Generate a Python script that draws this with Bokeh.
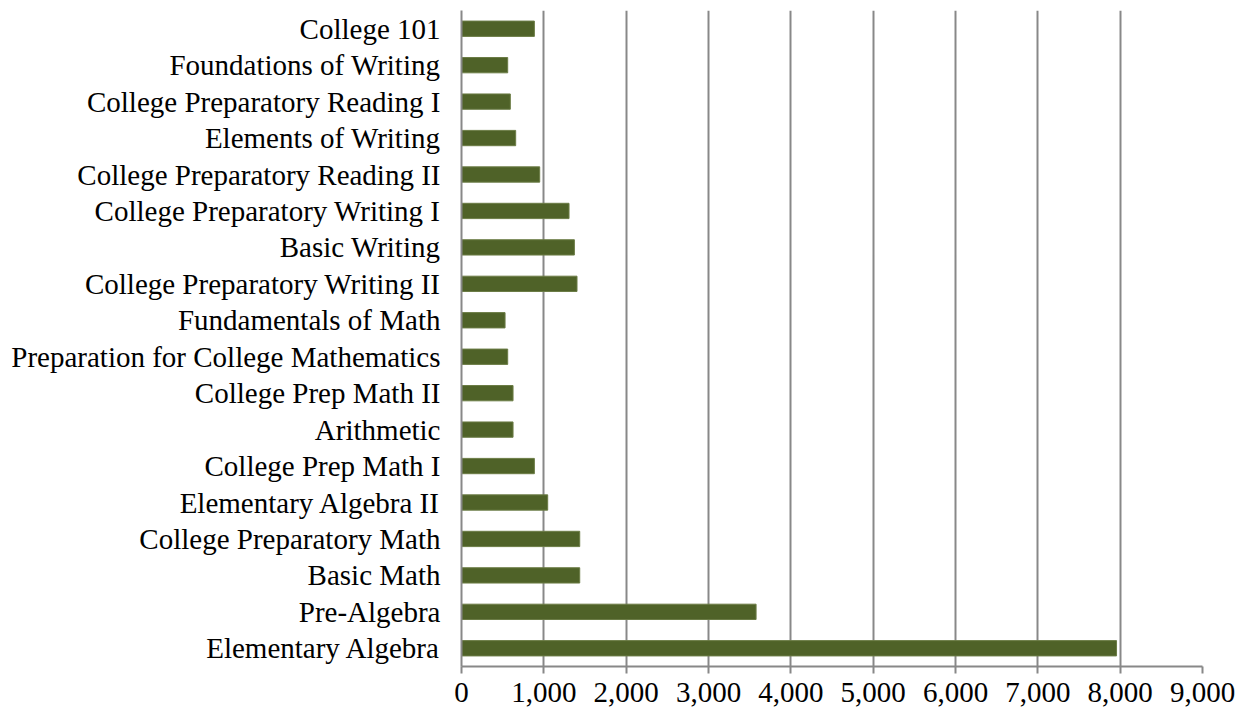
from bokeh.plotting import figure
from bokeh.models import SingleIntervalTicker, NumeralTickFormatter, FactorRange
from bokeh.embed import file_html
from bokeh.resources import INLINE

categories = [
    "Elementary Algebra", "Pre-Algebra", "Basic Math", "College Preparatory Math",
    "Elementary Algebra II", "College Prep Math I", "Arithmetic", "College Prep Math II",
    "Preparation for College Mathematics", "Fundamentals of Math",
    "College Preparatory Writing II", "Basic Writing", "College Preparatory Writing I",
    "College Preparatory Reading II", "Elements of Writing", "College Preparatory Reading I",
    "Foundations of Writing", "College 101",
]
values = [7956, 3578, 1436, 1436, 1047, 885, 626, 626, 561, 529,
          1403, 1371, 1306, 950, 658, 593, 561, 885]

p = figure(width=1246, height=715, y_range=FactorRange(factors=categories, range_padding=0),
           x_range=(0, 9000), output_backend="svg", toolbar_location=None,
           min_border_left=461, min_border_right=44, min_border_top=10, min_border_bottom=49)
p.hbar(y=categories, right=values, left=0, height=0.42, fill_color="#4F6228", line_color="#6B7C45", line_width=1)

p.outline_line_color = None
p.ygrid.grid_line_color = None
p.xgrid.grid_line_color = "#888888"
p.xgrid.grid_line_width = 2
p.xaxis.ticker = SingleIntervalTicker(interval=1000)
p.xaxis.formatter = NumeralTickFormatter(format="0,0")
p.xaxis.minor_tick_line_color = None
p.xaxis.major_tick_out = 7
p.xaxis.major_tick_in = 0
p.xaxis.axis_line_color = "#888888"
p.xaxis.axis_line_width = 2
p.xaxis.major_tick_line_color = "#888888"
p.xaxis.major_tick_line_width = 2
p.xaxis.major_label_standoff = 9

p.yaxis.axis_line_color = "#888888"
p.yaxis.axis_line_width = 2
p.yaxis.major_tick_line_color = None
p.yaxis.minor_tick_line_color = None
p.yaxis.major_label_standoff = 15

for ax in (p.xaxis, p.yaxis):
    ax.major_label_text_font = "Liberation Serif"
    ax.major_label_text_font_size = "29px"
    ax.major_label_text_color = "#000000"

open("out.html", "w").write(file_html(p, INLINE))
